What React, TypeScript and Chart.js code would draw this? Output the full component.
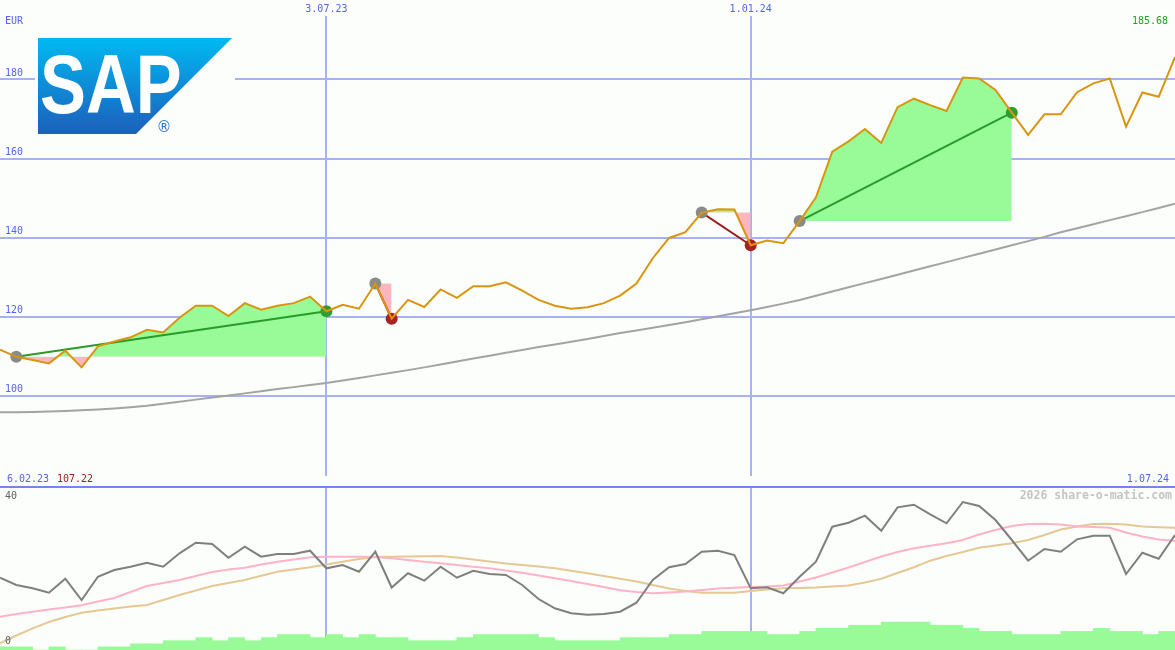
import React, { useEffect, useRef } from 'react';
import { Chart, registerables } from 'chart.js';

Chart.register(...registerables);

// ---- data (weekly, index 0 = 13.02.23 ... 72 = 1.07.24) ----
const weekTicks = [20, 46];
const weekTickLabels = ['3.07.23', '1.01.24'];
const startLabel = '6.02.23';
const endLabel = '1.07.24';
const minPriceLabel = '107.22';
const lastPriceLabel = '185.68';
const currencyLabel = 'EUR';
const priceTicks = [100, 120, 140, 160, 180];
const oscTopLabel = '40';
const oscBottomLabel = '0';
const watermark = '2026 share-o-matic.com';

const price = [
  111.68, 109.88, 109.06, 108.22, 111.43, 107.22, 112.52, 113.75, 114.81, 116.72,
  116.05, 119.75, 122.79, 122.79, 120.17, 123.46, 121.8, 122.79, 123.46, 125.11,
  121.41, 123.04, 122.05, 128.4, 119.51, 124.27, 122.47, 126.91, 124.77, 127.73,
  127.73, 128.72, 126.59, 124.27, 122.79, 122.05, 122.4, 123.46, 125.36, 128.4,
  134.81, 139.93, 141.41, 146.35, 147.16, 147.1, 138.1, 139.26, 138.59, 144.2,
  150.2, 161.73, 164.37, 167.48, 163.95, 173.01, 175.14, 173.51, 172.02, 180.49,
  180.25, 177.36, 171.6, 166.0, 171.19, 171.19, 176.79, 179.01, 180.25, 168.07,
  176.72, 175.63, 185.68,
];

const movingAvg = [
  95.88, 95.88, 95.93, 96.05, 96.17, 96.37, 96.59, 96.84, 97.16, 97.53,
  98.02, 98.52, 99.06, 99.6, 100.1, 100.64, 101.19, 101.73, 102.22, 102.77,
  103.28, 103.9, 104.54, 105.19, 105.85, 106.52, 107.21, 107.95, 108.69, 109.43,
  110.17, 110.91, 111.6, 112.35, 113.01, 113.7, 114.4, 115.14, 115.9, 116.54,
  117.21, 117.9, 118.64, 119.38, 120.12, 120.91, 121.68, 122.47, 123.33, 124.27,
  125.33, 126.4, 127.46, 128.52, 129.58, 130.64, 131.7, 132.77, 133.83, 134.89,
  135.95, 137.01, 138.07, 139.14, 140.2, 141.36, 142.4, 143.41, 144.44, 145.43,
  146.47, 147.51, 148.57,
];

const tradeEntry = [1, 23, 43, 49];
const tradeExit = [20, 24, 46, 62];

const oscillator = [
  17.96, 16.15, 15.33, 14.24, 17.71, 12.42, 18.21, 19.88, 20.7, 21.69,
  20.7, 24.02, 26.66, 26.34, 22.93, 25.66, 23.18, 23.85, 23.85, 24.67,
  20.3, 21.12, 19.45, 24.42, 15.53, 19.06, 17.22, 20.7, 17.96, 19.7,
  18.88, 18.63, 16.15, 12.67, 10.36, 9.12, 8.77, 8.94, 9.52, 11.75,
  17.39, 20.55, 21.37, 24.42, 24.67, 23.6, 15.33, 15.58, 14.09, 18.21,
  21.94, 30.63, 31.63, 33.37, 29.64, 35.45, 36.1, 33.71, 31.48, 36.77,
  35.78, 32.3, 27.33, 22.19, 25.09, 24.42, 27.5, 28.4, 28.4, 18.88,
  24.17, 22.68, 28.57,
];

const oscFast = [
  8.27, 8.94, 9.52, 10.06, 10.56, 11.11, 12.05, 12.92, 14.41, 15.9,
  16.65, 17.39, 18.39, 19.38, 20.0, 20.45, 21.24, 21.94, 22.48, 23.03,
  23.18, 23.18, 23.18, 23.11, 22.78, 22.36, 21.94, 21.54, 21.12, 20.7,
  20.3, 19.75, 19.2, 18.51, 17.81, 17.14, 16.4, 15.65, 14.83, 14.41,
  14.09, 14.29, 14.53, 14.91, 15.28, 15.45, 15.65, 15.78, 16.02, 17.02,
  18.01, 19.25, 20.5, 21.86, 23.23, 24.35, 25.27, 25.89, 26.51, 27.33,
  28.7, 29.81, 30.81, 31.3, 31.38, 31.18, 30.71, 30.56, 30.39, 29.19,
  28.2, 27.45, 27.16,
];

const oscSlow = [
  1.66, 3.6, 5.39, 6.96, 8.2, 9.27, 9.81, 10.31, 10.81, 11.18,
  12.42, 13.66, 14.78, 15.9, 16.65, 17.39, 18.43, 19.45, 20.0, 20.55,
  21.24, 21.94, 22.61, 23.11, 23.18, 23.23, 23.28, 23.35, 22.98, 22.48,
  21.99, 21.49, 21.12, 20.75, 20.3, 19.68, 19.06, 18.39, 17.71, 17.02,
  16.15, 15.28, 14.66, 14.24, 14.24, 14.24, 14.66, 15.03, 15.33, 15.4,
  15.53, 15.78, 16.02, 16.77, 17.71, 19.13, 20.55, 22.19, 23.35, 24.35,
  25.42, 25.96, 26.51, 27.33, 28.57, 29.94, 30.68, 31.3, 31.38, 31.18,
  30.68, 30.51, 30.39,
];

// relative weekly volume, one bar per week interval
const volume = [
  1, 1, 0, 1, 0, 0, 1, 1, 2, 2, 3, 3, 4, 3, 4, 3, 4, 5, 5, 4,
  5, 4, 5, 4, 4, 3, 3, 3, 4, 5, 5, 5, 5, 4, 3, 3, 3, 3, 4, 4,
  4, 5, 5, 6, 6, 6, 6, 5, 5, 6, 7, 7, 8, 8, 9, 9, 9, 8, 8, 7,
  6, 6, 5, 5, 5, 6, 6, 7, 6, 6, 5, 6,
];

// ---- styles ----
const BG = '#fcfefc';
const BLUE = '#5563f0';
const GRID = '#a6b2f4';
const SEP = '#7684ee';
const MONO = '"DejaVu Sans Mono", monospace';
const PRICE_COLOR = '#d9950f';
const MA_COLOR = '#a3a3a3';
const FILL_GREEN = '#98fb98';
const FILL_PINK = '#ffb6c1';
const WIN_LINE = '#2a9a2a';
const LOSS_LINE = '#a01c1c';
const WIN_DOT = '#2e9e2e';
const LOSS_DOT = '#a82222';
const ENTRY_DOT = '#8a8a8a';

const xs = (arr: number[], offset = 0) => arr.map((y, i) => ({ x: i + offset, y }));

const topTextPlugin = {
  id: 'topText',
  afterDraw(chart: any) {
    const ctx = chart.ctx as CanvasRenderingContext2D;
    ctx.save();
    // logo
    ctx.fillStyle = BG;
    ctx.fillRect(35, 36, 200, 101);
    const g = ctx.createLinearGradient(0, 38, 0, 134);
    g.addColorStop(0, '#00b9f2');
    g.addColorStop(1, '#1d5fbb');
    ctx.fillStyle = g;
    ctx.beginPath();
    ctx.moveTo(38, 38);
    ctx.lineTo(232, 38);
    ctx.lineTo(136, 134);
    ctx.lineTo(38, 134);
    ctx.closePath();
    ctx.fill();
    ctx.save();
    ctx.fillStyle = '#ffffff';
    ctx.font = 'bold 84px "Liberation Sans", Arial, sans-serif';
    ctx.textBaseline = 'alphabetic';
    ctx.textAlign = 'left';
    ctx.translate(40, 113);
    ctx.scale(0.82, 1);
    ctx.fillText('SAP', 0, 0);
    ctx.restore();
    ctx.fillStyle = '#2a78cc';
    ctx.font = '15px "DejaVu Sans", sans-serif';
    ctx.textAlign = 'center';
    ctx.textBaseline = 'middle';
    ctx.fillText('®', 164, 128);

    ctx.font = `10px ${MONO}`;
    ctx.textBaseline = 'middle';
    ctx.textAlign = 'left';
    ctx.fillStyle = BLUE;
    ctx.fillText(currencyLabel, 5, 21);
    ctx.fillText(startLabel, 7, 479);
    ctx.fillStyle = '#a01c1c';
    ctx.fillText(minPriceLabel, 57, 479);
    ctx.textAlign = 'right';
    ctx.fillStyle = BLUE;
    ctx.fillText(endLabel, 1169, 479);
    ctx.fillStyle = '#22a022';
    ctx.fillText(lastPriceLabel, 1168, 21);
    ctx.restore();
  },
};

const bottomTextPlugin = {
  id: 'bottomText',
  afterDraw(chart: any) {
    const ctx = chart.ctx as CanvasRenderingContext2D;
    ctx.save();
    ctx.font = `10px ${MONO}`;
    ctx.textBaseline = 'middle';
    ctx.textAlign = 'left';
    ctx.fillStyle = '#606060';
    ctx.fillText(oscTopLabel, 5, 10);
    ctx.fillText(oscBottomLabel, 5, 155);
    ctx.font = `bold 11.5px ${MONO}`;
    ctx.textAlign = 'right';
    ctx.fillStyle = '#c4c4c4';
    ctx.fillText(watermark, 1172, 10);
    ctx.restore();
  },
};

export default function App() {
  const topRef = useRef<HTMLCanvasElement>(null);
  const botRef = useRef<HTMLCanvasElement>(null);

  useEffect(() => {
    document.body.style.margin = '0';
    document.body.style.background = BG;

    const tradeLines = tradeEntry.map((e, t) => {
      const x = tradeExit[t];
      const win = price[x] > price[e];
      return {
        type: 'line' as const,
        data: [{ x: e, y: price[e] }, { x, y: price[x] }],
        borderColor: win ? WIN_LINE : LOSS_LINE,
        borderWidth: 2,
        pointRadius: 6,
        pointHoverRadius: 6,
        pointBorderWidth: 0,
        pointBackgroundColor: [ENTRY_DOT, win ? WIN_DOT : LOSS_DOT],
        fill: false,
      };
    });

    const tradeFills = tradeEntry.map((e, t) => ({
      type: 'line' as const,
      data: price.slice(e, tradeExit[t] + 1).map((y, j) => ({ x: e + j, y })),
      borderWidth: 0,
      borderColor: 'rgba(0,0,0,0)',
      pointRadius: 0,
      fill: { target: { value: price[e] }, above: FILL_GREEN, below: FILL_PINK },
    }));

    const top = new Chart(topRef.current!, {
      type: 'line',
      data: {
        datasets: [
          {
            data: xs(price),
            borderColor: PRICE_COLOR,
            borderWidth: 2,
            pointRadius: 0,
            tension: 0,
            fill: false,
          },
          ...tradeLines,
          ...tradeFills,
          {
            data: xs(movingAvg),
            borderColor: MA_COLOR,
            borderWidth: 2,
            pointRadius: 0,
            tension: 0,
            fill: false,
          },
        ] as any,
      },
      options: {
        responsive: false,
        maintainAspectRatio: false,
        devicePixelRatio: 1,
        animation: false,
        events: [],
        layout: { padding: 0, autoPadding: false },
        plugins: { legend: { display: false }, tooltip: { enabled: false } },
        scales: {
          x: {
            type: 'linear',
            position: 'top',
            min: 0,
            max: 72,
            offset: false,
            afterBuildTicks: (s: any) => {
              s.ticks = weekTicks.map((v) => ({ value: v }));
            },
            afterFit: (s: any) => {
              s.height = 16;
            },
            ticks: {
              callback: (v: any) => weekTickLabels[weekTicks.indexOf(Number(v))] ?? '',
              color: BLUE,
              font: { family: MONO, size: 10 },
              padding: 1,
              maxRotation: 0,
              autoSkip: false,
            },
            grid: { color: GRID, lineWidth: 2, drawTicks: false },
            border: { display: false },
          },
          y: {
            type: 'linear',
            position: 'left',
            min: 79.75,
            max: 196.05,
            afterBuildTicks: (s: any) => {
              s.ticks = priceTicks.map((v) => ({ value: v }));
            },
            afterFit: (s: any) => {
              s.width = 0;
            },
            ticks: {
              mirror: true,
              padding: 5,
              labelOffset: -6,
              color: BLUE,
              font: { family: MONO, size: 10 },
              callback: (v: any) => String(v),
            },
            grid: { color: GRID, lineWidth: 2, drawTicks: false },
            border: { display: false },
          },
        },
      } as any,
      plugins: [topTextPlugin],
    });

    const bot = new Chart(botRef.current!, {
      type: 'line',
      data: {
        datasets: [
          {
            data: xs(oscillator),
            borderColor: '#7f7f7f',
            borderWidth: 2,
            pointRadius: 0,
            tension: 0,
            yAxisID: 'y',
          },
          {
            data: xs(oscFast),
            borderColor: '#ffb3c6',
            borderWidth: 2,
            pointRadius: 0,
            tension: 0,
            yAxisID: 'y',
          },
          {
            data: xs(oscSlow),
            borderColor: '#e5c894',
            borderWidth: 2,
            pointRadius: 0,
            tension: 0,
            yAxisID: 'y',
          },
          {
            type: 'bar',
            data: xs(volume, 0.5),
            backgroundColor: FILL_GREEN,
            borderWidth: 0,
            barPercentage: 1,
            categoryPercentage: 1,
            yAxisID: 'yVol',
          },
        ] as any,
      },
      options: {
        responsive: false,
        maintainAspectRatio: false,
        devicePixelRatio: 1,
        animation: false,
        events: [],
        layout: { padding: { top: 1, left: 0, right: 0, bottom: 0 }, autoPadding: false },
        plugins: { legend: { display: false }, tooltip: { enabled: false } },
        scales: {
          x: {
            type: 'linear',
            position: 'top',
            min: 0,
            max: 72,
            offset: false,
            afterBuildTicks: (s: any) => {
              s.ticks = weekTicks.map((v) => ({ value: v }));
            },
            afterFit: (s: any) => {
              s.height = 0;
            },
            ticks: { display: false },
            grid: { color: GRID, lineWidth: 2, drawTicks: false, offset: false },
            border: { display: true, color: SEP, width: 2 },
          },
          y: { type: 'linear', min: 0, max: 40.5, display: false },
          yVol: { type: 'linear', min: 0, max: 52.6, display: false },
        },
      } as any,
      plugins: [bottomTextPlugin],
    });

    return () => {
      top.destroy();
      bot.destroy();
    };
  }, []);

  return (
    <div style={{ position: 'relative', width: 1175, height: 650, background: BG, overflow: 'hidden' }}>
      <canvas ref={topRef} width={1175} height={487} style={{ position: 'absolute', left: 0, top: 0 }} />
      <canvas ref={botRef} width={1175} height={164} style={{ position: 'absolute', left: 0, top: 486 }} />
    </div>
  );
}
